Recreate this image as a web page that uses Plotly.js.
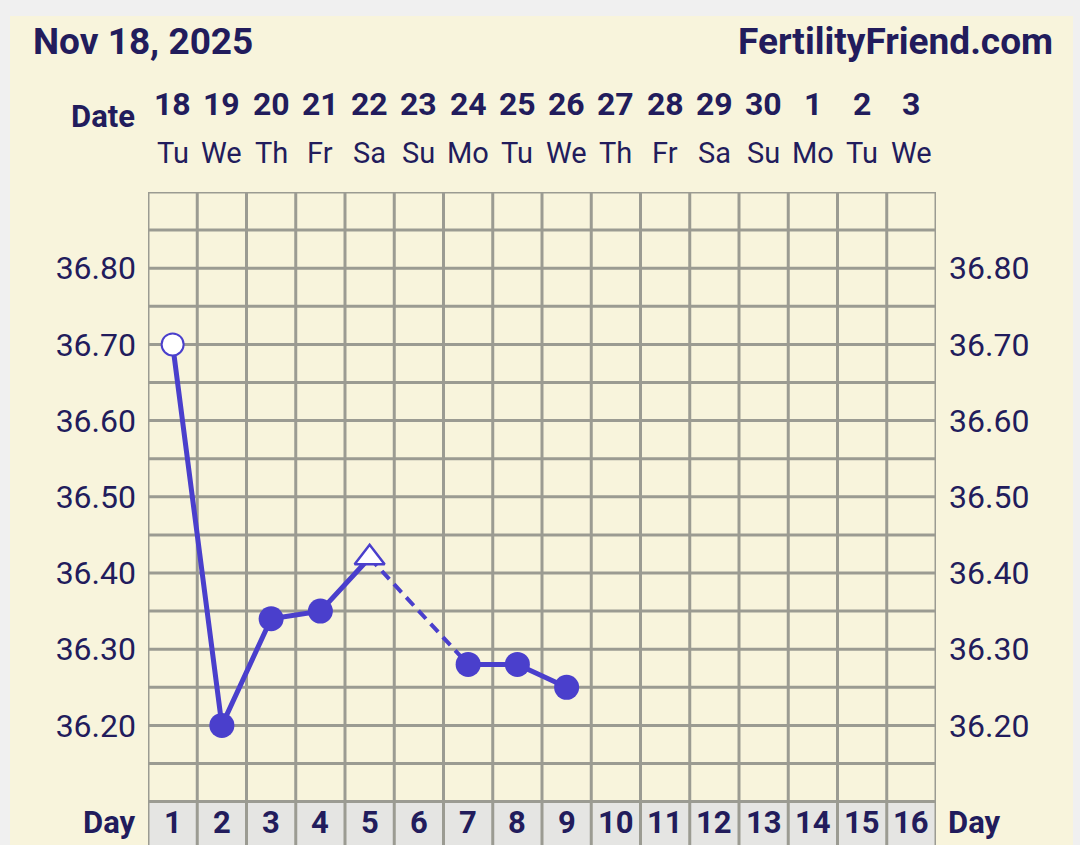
<!DOCTYPE html>
<html>
<head>
<meta charset="utf-8">
<script src="https://cdn.plot.ly/plotly-3.0.1.min.js"></script>
<style>html,body{margin:0;padding:0;background:#f0f0f0;}#chart{width:1080px;height:845px;}</style>
</head>
<body>
<div id="chart"></div>
<script>
// ---- data ----
const chartDate = 'Nov 18, 2025';
const siteName = 'FertilityFriend.com';
const cycleDays = [1, 2, 3, 4, 5, 6, 7, 8, 9, 10, 11, 12, 13, 14, 15, 16];
const dateLabels = ['18', '19', '20', '21', '22', '23', '24', '25', '26', '27', '28', '29', '30', '1', '2', '3'];
const weekdayLabels = ['Tu', 'We', 'Th', 'Fr', 'Sa', 'Su', 'Mo', 'Tu', 'We', 'Th', 'Fr', 'Sa', 'Su', 'Mo', 'Tu', 'We'];
const tempDays = [1, 2, 3, 4, 5, 6, 7, 8, 9];
const temps = [36.70, 36.20, 36.34, 36.35, 36.42, null, 36.28, 36.28, 36.25];
// point kind: 'open' = open circle, 'normal' = filled circle, 'flag' = open triangle
const pointKinds = ['open', 'normal', 'normal', 'normal', 'flag', null, 'normal', 'normal', 'normal'];
const tempTicks = [36.20, 36.30, 36.40, 36.50, 36.60, 36.70, 36.80];

// ---- layout geometry ----
const W = 1080, H = 845;
const L = 148, R = 936, T = 192, B = 845;
const yTop = 36.90, yRow = 36.10;
const pxPerDeg = 762;
const yLow = yTop - (B - T) / pxPerDeg;
const px2x = p => (p - L) / (R - L);
const py2y = p => (B - p) / (B - T);

const INK = '#221c5c';
const LINE = '#4a3fcc';
const GRID = '#9b9b92';
const FONT = 'Roboto, "Open Sans", sans-serif';

// ---- grid shapes ----
const shapes = [];
shapes.push({type: 'rect', xref: 'paper', yref: 'paper', x0: px2x(10), x1: px2x(1073), y0: py2y(845), y1: py2y(16),
  fillcolor: '#f8f4dc', line: {width: 0}, layer: 'below'});
shapes.push({type: 'rect', xref: 'x', yref: 'y', x0: 0.5, x1: cycleDays.length + 0.5, y0: yLow, y1: yRow,
  fillcolor: '#e5e5e3', line: {width: 0}, layer: 'below'});
const nH = Math.round((yTop - yRow) / 0.05);
for (let i = 0; i <= nH; i++) {
  const yv = yRow + i * 0.05;
  shapes.push({type: 'line', xref: 'x', yref: 'y', x0: 0.5, x1: cycleDays.length + 0.5, y0: yv, y1: yv,
    line: {color: GRID, width: 3}, layer: 'below'});
}
for (let k = 0; k <= cycleDays.length; k++) {
  shapes.push({type: 'line', xref: 'x', yref: 'y', x0: k + 0.5, x1: k + 0.5, y0: yLow, y1: yTop,
    line: {color: GRID, width: 3}, layer: 'below'});
}

// ---- traces ----
const traces = [];
traces.push({x: tempDays, y: temps, type: 'scatter', mode: 'lines', connectgaps: false,
  line: {color: LINE, width: 5}, hoverinfo: 'skip'});
// dashed bridges across gaps
for (let i = 0; i < temps.length; i++) {
  if (temps[i] === null) {
    let a = i - 1, b = i + 1;
    while (a >= 0 && temps[a] === null) a--;
    while (b < temps.length && temps[b] === null) b++;
    if (a >= 0 && b < temps.length) {
      traces.push({x: [tempDays[a], tempDays[b]], y: [temps[a], temps[b]], type: 'scatter', mode: 'lines',
        line: {color: LINE, width: 4, dash: '11px,7px'}, hoverinfo: 'skip'});
    }
  }
}
const symMap = {open: 'circle', normal: 'circle', flag: 'triangle-up'};
const sizeMap = {open: 22, normal: 25, flag: 26};
const fillMap = {open: '#ffffff', normal: LINE, flag: '#ffffff'};
const lwMap = {open: 2, normal: 0, flag: 2.5};
const mx = [], my = [], msym = [], msize = [], mfill = [], mlw = [];
temps.forEach((t, i) => {
  if (t === null) return;
  const k = pointKinds[i];
  mx.push(tempDays[i]); my.push(t); msym.push(symMap[k]); msize.push(sizeMap[k]);
  mfill.push(fillMap[k]); mlw.push(lwMap[k]);
});
traces.push({x: mx, y: my, type: 'scatter', mode: 'markers', hoverinfo: 'skip',
  marker: {symbol: msym, size: msize, color: mfill, opacity: 1, line: {color: LINE, width: mlw}}});
traces.push({x: [1], y: [36.5], yaxis: 'y2', type: 'scatter', mode: 'markers', marker: {opacity: 0}, hoverinfo: 'skip', showlegend: false});

// ---- annotations ----
const ann = [];
ann.push({xref: 'paper', yref: 'paper', x: px2x(31), y: py2y(42), xanchor: 'left', yanchor: 'middle', showarrow: false,
  text: chartDate, font: {family: FONT, size: 37, color: INK, weight: 700}});
ann.push({xref: 'paper', yref: 'paper', x: px2x(1055), y: py2y(42), xanchor: 'right', yanchor: 'middle', showarrow: false,
  text: siteName, font: {family: FONT, size: 37, color: INK, weight: 700}});
ann.push({xref: 'paper', yref: 'paper', x: px2x(137), y: py2y(117), xanchor: 'right', yanchor: 'middle', showarrow: false,
  text: 'Date', font: {family: FONT, size: 31, color: INK, weight: 700}});
ann.push({xref: 'paper', yref: 'paper', x: px2x(138), y: py2y(822), xanchor: 'right', yanchor: 'middle', showarrow: false,
  text: 'Day', font: {family: FONT, size: 31, color: INK, weight: 700}});
ann.push({xref: 'paper', yref: 'paper', x: px2x(946), y: py2y(822), xanchor: 'left', yanchor: 'middle', showarrow: false,
  text: 'Day', font: {family: FONT, size: 31, color: INK, weight: 700}});
cycleDays.forEach((d, i) => {
  ann.push({xref: 'x', yref: 'paper', x: d, y: py2y(104), xanchor: 'center', yanchor: 'middle', showarrow: false,
    text: dateLabels[i], font: {family: FONT, size: 32, color: INK, weight: 700}});
  ann.push({xref: 'x', yref: 'paper', x: d, y: py2y(153), xanchor: 'center', yanchor: 'middle', showarrow: false,
    text: weekdayLabels[i], font: {family: FONT, size: 29, color: INK}});
  ann.push({xref: 'x', yref: 'paper', x: d, y: py2y(822), xanchor: 'center', yanchor: 'middle', showarrow: false,
    text: String(d), font: {family: FONT, size: 31, color: INK, weight: 700}});
});

const yCommon = {range: [yLow, yTop], tickvals: tempTicks, ticktext: tempTicks.map(v => v.toFixed(2)),
  showgrid: false, zeroline: false, showline: false, ticks: '', ticklabelstandoff: 11,
  tickfont: {family: FONT, size: 32, color: INK}, fixedrange: true};

const layout = {
  width: W, height: H,
  margin: {l: L, r: W - R, t: T, b: H - B, pad: 0},
  paper_bgcolor: '#f0f0f0', plot_bgcolor: 'rgba(0,0,0,0)',
  showlegend: false,
  xaxis: {range: [0.5, cycleDays.length + 0.5], showgrid: false, zeroline: false, showline: false,
    showticklabels: false, ticks: '', fixedrange: true},
  yaxis: Object.assign({}, yCommon, {side: 'left'}),
  yaxis2: Object.assign({}, yCommon, {side: 'right', overlaying: 'y', ticklabelstandoff: 12}),
  shapes: shapes,
  annotations: ann
};

Plotly.newPlot('chart', traces, layout, {staticPlot: true, displayModeBar: false});
</script>
</body>
</html>
